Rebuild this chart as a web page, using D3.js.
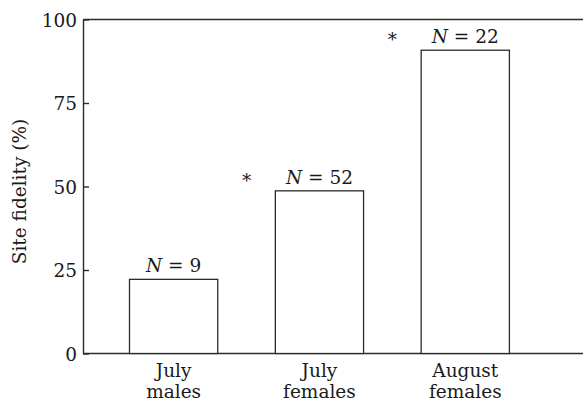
<!DOCTYPE html>
<html>
<head>
<meta charset="utf-8">
<script src="https://cdn.jsdelivr.net/npm/d3@7"></script>
<style>
  body { margin: 0; background: #fff; }
  svg text { font-family: "DejaVu Serif", "Liberation Serif", serif; font-size: 18.5px; fill: #1a1a1a; }
</style>
</head>
<body>
<svg id="chart" width="583" height="402"></svg>
<script>
// data
const groups = ['jm', 'jf', 'af'];
const groupLabels = [['July', 'males'], ['July', 'females'], ['August', 'females']];
const fidelity = [22.2, 48.7, 90.8];
const sampleSizes = [9, 52, 22];
const yTicks = [0, 25, 50, 75, 100];
// significant differences between neighbouring groups
const sigPairs = [['jm', 'jf'], ['jf', 'af']];

const svg = d3.select('#chart');
const plotLeft = 83, plotRight = 583, plotTop = 19.5, plotBottom = 353.5;
const ink = '#2b2b2b';

const y = d3.scaleLinear().domain([0, 100]).range([plotBottom, plotTop]);
const x = d3.scaleBand()
  .domain(groups)
  .range([129.5, 509.4])
  .paddingInner(0.395)
  .paddingOuter(0);

// y axis, ticks pointing inward
const yAxis = svg.append('g')
  .attr('transform', `translate(${plotLeft},0)`)
  .call(d3.axisLeft(y).tickValues(yTicks).tickSizeInner(-6).tickSizeOuter(0).tickPadding(6));
yAxis.selectAll('path, line').attr('stroke', ink).attr('stroke-width', 1.4);
yAxis.attr('font-family', null).attr('font-size', null);
yAxis.selectAll('text').attr('dy', '0.36em');

// frame top and baseline
svg.append('line')
  .attr('x1', plotLeft).attr('x2', plotRight)
  .attr('y1', y(100)).attr('y2', y(100))
  .attr('stroke', ink).attr('stroke-width', 1.4);
svg.append('line')
  .attr('x1', plotLeft).attr('x2', plotRight)
  .attr('y1', y(0)).attr('y2', y(0))
  .attr('stroke', ink).attr('stroke-width', 1.4);

svg.append('text')
  .attr('transform', `translate(26,${(y(0) + y(100)) / 2 + 5}) rotate(-90)`)
  .attr('text-anchor', 'middle')
  .text('Site fidelity (%)');

// bars
svg.append('g').selectAll('rect')
  .data(groups)
  .join('rect')
    .attr('x', d => x(d))
    .attr('y', (d, i) => y(fidelity[i]))
    .attr('width', x.bandwidth())
    .attr('height', (d, i) => y(0) - y(fidelity[i]))
    .attr('fill', '#fff')
    .attr('stroke', ink)
    .attr('stroke-width', 1.3);

// N labels
const nLabels = svg.append('g').selectAll('text')
  .data(groups)
  .join('text')
    .attr('x', d => x(d) + x.bandwidth() / 2)
    .attr('y', (d, i) => y(fidelity[i]) - 7)
    .attr('text-anchor', 'middle');
nLabels.append('tspan').attr('font-style', 'italic').text('N');
nLabels.append('tspan').text((d, i) => ` = ${sampleSizes[i]}`);

// asterisks in the gap between compared bars
svg.append('g').selectAll('text')
  .data(sigPairs)
  .join('text')
    .attr('x', d => (x(d[0]) + x.bandwidth() + x(d[1])) / 2)
    .attr('y', d => y(fidelity[groups.indexOf(d[1])]) - 4)
    .attr('text-anchor', 'middle')
    .text('*');

// category labels, two lines each
const catLabels = svg.append('g').selectAll('text')
  .data(groups)
  .join('text')
    .attr('text-anchor', 'middle');
catLabels.append('tspan')
  .attr('x', d => x(d) + x.bandwidth() / 2)
  .attr('y', y(0) + 23)
  .text((d, i) => groupLabels[i][0]);
catLabels.append('tspan')
  .attr('x', d => x(d) + x.bandwidth() / 2)
  .attr('y', y(0) + 44)
  .text((d, i) => groupLabels[i][1]);
</script>
</body>
</html>
